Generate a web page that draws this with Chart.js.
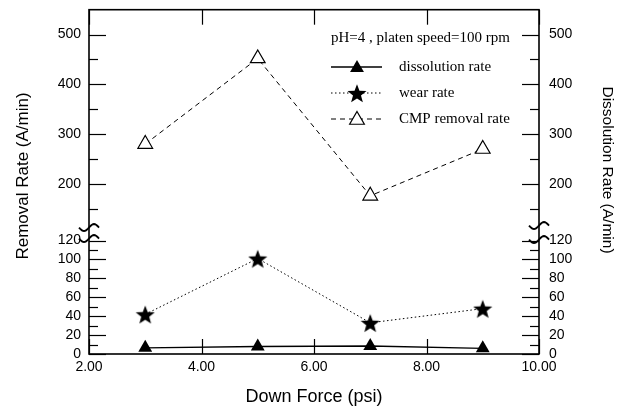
<!DOCTYPE html>
<html>
<head>
<meta charset="utf-8">
<script src="https://cdn.jsdelivr.net/npm/chart.js@4.4.1/dist/chart.umd.min.js"></script>
<style>
  html, body { margin: 0; padding: 0; background: #fff; }
  #wrap { width: 623px; height: 410px; }
</style>
</head>
<body>
<div id="wrap"><canvas id="chart"></canvas></div>
<script>
// data
const downForce = [3, 5, 7, 9];
const dissolutionRate = [6.5, 8, 8.5, 6];
const wearRate = [42, 101, 33, 48];
const cmpRemovalRate = [280, 452, 176, 270];

const xTicks = [2, 4, 6, 8, 10];
const lowTicks = [0, 10, 20, 30, 40, 50, 60, 70, 80, 90, 100, 110, 120];
const highTicks = [150, 200, 250, 300, 350, 400, 450, 500];
const seriesNames = ["dissolution rate", "wear rate", "CMP removal rate"];
const conditionText = "pH=4 , platen speed=100 rpm";

const sans = "'Liberation Sans', Arial, sans-serif";
const serif = "'Liberation Serif', 'Times New Roman', serif";

// filled five point star used as a point style
function makeStar(size) {
  const c = document.createElement("canvas");
  c.width = c.height = size;
  const g = c.getContext("2d");
  const r = size / 2, ri = r * 0.42;
  g.beginPath();
  for (let i = 0; i < 10; i++) {
    const a = -Math.PI / 2 + i * Math.PI / 5;
    const rr = i % 2 ? ri : r;
    g.lineTo(r + rr * Math.cos(a), r + rr * Math.sin(a) + size * 0.06);
  }
  g.closePath();
  g.fillStyle = "#000";
  g.fill();
  return c;
}
const star = makeStar(20);

const pts = (ys) => downForce.map((x, i) => ({ x, y: ys[i] }));

function tickSet(list) {
  return (scale) => { scale.ticks = list.map((v) => ({ value: v })); };
}

function yAxis(pos, weight, min, max, list, every) {
  return {
    type: "linear",
    position: pos,
    stack: pos,
    stackWeight: weight,
    min, max,
    afterBuildTicks: tickSet(list),
    afterFit: (s) => {
      s.width = pos === "left" ? 89 : 84;
      s.paddingTop = 0;
      s.paddingBottom = 0;
    },
    grid: { display: false, drawTicks: false },
    border: { display: false },
    ticks: {
      autoSkip: false,
      color: "#000",
      padding: pos === "left" ? 8 : 10,
      font: { family: sans, size: 14 },
      callback: (v) => (v % every === 0 ? String(v) : ""),
    },
  };
}

function drawTri(ctx, x, y, r, filled) {
  ctx.beginPath();
  for (let i = 0; i < 3; i++) {
    const a = i * 2 * Math.PI / 3;
    ctx.lineTo(x + Math.sin(a) * r, y - Math.cos(a) * r);
  }
  ctx.closePath();
  if (filled) { ctx.fillStyle = "#000"; ctx.fill(); }
  else { ctx.fillStyle = "#fff"; ctx.fill(); ctx.lineWidth = 1.2; ctx.strokeStyle = "#000"; ctx.stroke(); }
}

// box, inward ticks and axis breaks
const frame = {
  id: "frame",
  beforeDatasetsDraw(chart) {
    const { ctx, chartArea: a, scales } = chart;
    ctx.save();
    ctx.strokeStyle = "#000";
    ctx.lineWidth = 1.2;
    ["yHigh", "yLow"].forEach((id) => {
      const s = scales[id];
      s.ticks.forEach((t) => {
        const y = Math.round(s.getPixelForValue(t.value)) + 0.5;
        const len = t.label ? 17 : 9;
        ctx.beginPath(); ctx.moveTo(a.left, y); ctx.lineTo(a.left + len, y); ctx.stroke();
      });
    });
    ["yHighR", "yLowR"].forEach((id) => {
      const s = scales[id];
      s.ticks.forEach((t) => {
        const y = Math.round(s.getPixelForValue(t.value)) + 0.5;
        const len = t.label ? 17 : 9;
        ctx.beginPath(); ctx.moveTo(a.right, y); ctx.lineTo(a.right - len, y); ctx.stroke();
      });
    });
    const sx = scales.x;
    sx.ticks.forEach((t) => {
      const x = Math.round(sx.getPixelForValue(t.value)) + 0.5;
      ctx.beginPath(); ctx.moveTo(x, a.bottom); ctx.lineTo(x, a.bottom - 15); ctx.stroke();
      ctx.beginPath(); ctx.moveTo(x, a.top); ctx.lineTo(x, a.top + 15); ctx.stroke();
    });
    ctx.lineWidth = 1.6;
    ctx.strokeRect(a.left, a.top, a.right - a.left, a.bottom - a.top);

    // break marks
    const yb = scales.yLow.getPixelForValue(120);
    ctx.lineWidth = 1.9;
    [[a.left, [yb - 13, yb - 2]], [a.right, [yb - 15, yb - 1]]].forEach(([x0, ys]) => {
      ys.forEach((y0) => {
        ctx.beginPath();
        for (let i = 0; i <= 20; i++) {
          const dx = -10 + i;
          ctx.lineTo(x0 + dx, y0 - 3.5 * Math.sin((dx / 10) * Math.PI));
        }
        ctx.stroke();
      });
    });

    // y axis titles
    ctx.fillStyle = "#000";
    ctx.textAlign = "center";
    ctx.textBaseline = "middle";
    ctx.font = "17px " + sans;
    ctx.save();
    ctx.translate(23, 176);
    ctx.rotate(-Math.PI / 2);
    ctx.fillText("Removal Rate (A/min)", 0, 0);
    ctx.restore();
    ctx.font = "15.5px " + sans;
    ctx.save();
    ctx.translate(607, 170);
    ctx.rotate(Math.PI / 2);
    ctx.fillText("Dissolution Rate (A/min)", 0, 0);
    ctx.restore();
    ctx.restore();
  },
  afterDraw(chart) {
    // legend in the upper right of the plot
    const { ctx } = chart;
    ctx.save();
    ctx.fillStyle = "#000";
    ctx.font = "15px " + serif;
    ctx.textBaseline = "middle";
    ctx.textAlign = "left";
    ctx.fillText(conditionText, 331, 38);
    const rows = [67, 93, 119];
    chart.data.datasets.forEach((ds, i) => {
      const y = rows[i];
      ctx.strokeStyle = "#000";
      ctx.lineWidth = ds.borderWidth;
      ctx.setLineDash(ds.borderDash || []);
      ctx.beginPath(); ctx.moveTo(331, y); ctx.lineTo(382, y); ctx.stroke();
      ctx.setLineDash([]);
      if (i === 0) drawTri(ctx, 357, y + 1, 8, true);
      else if (i === 1) ctx.drawImage(star, 347, y - 10);
      else drawTri(ctx, 357, y + 1, 8.5, false);
      ctx.fillStyle = "#000";
      ctx.fillText(ds.label, 399, y);
    });
    ctx.restore();
  },
};

new Chart(document.getElementById("chart"), {
  type: "line",
  data: {
    datasets: [
      {
        label: seriesNames[0],
        data: pts(dissolutionRate),
        yAxisID: "yLow",
        borderColor: "#000",
        borderWidth: 1.4,
        pointStyle: "triangle",
        pointRadius: 8,
        pointBackgroundColor: "#000",
        pointBorderColor: "#000",
        pointBorderWidth: 0,
      },
      {
        label: seriesNames[1],
        data: pts(wearRate),
        yAxisID: "yLow",
        borderColor: "#000",
        borderWidth: 1,
        borderDash: [1.5, 2.5],
        pointStyle: star,
      },
      {
        label: seriesNames[2],
        data: pts(cmpRemovalRate),
        yAxisID: "yHigh",
        borderColor: "#000",
        borderWidth: 1,
        borderDash: [5, 4],
        pointStyle: "triangle",
        pointRadius: 8.5,
        pointBackgroundColor: "#fff",
        pointBorderColor: "#000",
        pointBorderWidth: 1.2,
      },
    ],
  },
  options: {
    responsive: true,
    maintainAspectRatio: false,
    animation: false,
    layout: { padding: { top: 8 } },
    plugins: { legend: { display: false }, tooltip: { enabled: false } },
    scales: {
      x: {
        type: "linear",
        min: 2,
        max: 10,
        afterBuildTicks: tickSet(xTicks),
        afterFit: (s) => { s.height = 56; },
        grid: { display: false, drawTicks: false },
        border: { display: false },
        ticks: {
          color: "#000",
          padding: 5,
          font: { family: sans, size: 14 },
          callback: (v) => v.toFixed(2),
        },
        title: {
          display: true,
          text: "Down Force (psi)",
          color: "#000",
          font: { family: sans, size: 18 },
          padding: { top: 0, bottom: 2 },
        },
      },
      // left boxes are laid out in reverse order, so the low part comes first here
      yLow: yAxis("left", 114, 0, 120, lowTicks, 20),
      yHigh: yAxis("left", 232, 86, 550, highTicks, 100),
      yHighR: yAxis("right", 232, 86, 550, highTicks, 100),
      yLowR: yAxis("right", 114, 0, 120, lowTicks, 20),
    },
  },
  plugins: [frame],
});
</script>
</body>
</html>
